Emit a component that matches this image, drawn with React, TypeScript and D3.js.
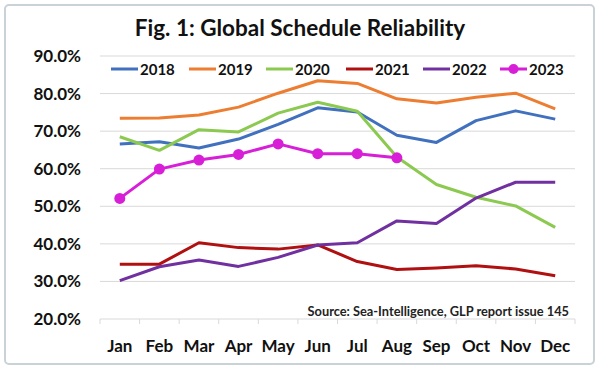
import React from "react";
import * as d3 from "d3";

const months = ["Jan", "Feb", "Mar", "Apr", "May", "Jun", "Jul", "Aug", "Sep", "Oct", "Nov", "Dec"];
const yTicks = [20, 30, 40, 50, 60, 70, 80, 90];

const s2018 = [66.6, 67.2, 65.5, 67.9, 71.8, 76.2, 75.1, 68.9, 67.0, 72.8, 75.4, 73.2];
const s2019 = [73.4, 73.5, 74.3, 76.4, 80.1, 83.4, 82.7, 78.6, 77.5, 79.0, 80.1, 75.9];
const s2020 = [68.5, 64.9, 70.4, 69.8, 74.8, 77.7, 75.3, 63.1, 55.8, 52.4, 50.1, 44.4];
const s2021 = [34.6, 34.6, 40.3, 39.0, 38.6, 39.7, 35.3, 33.2, 33.6, 34.2, 33.3, 31.5];
const s2022 = [30.2, 33.9, 35.7, 34.0, 36.4, 39.7, 40.3, 46.1, 45.4, 52.2, 56.4, 56.4];
const s2023 = [52.1, 59.9, 62.3, 63.8, 66.6, 64.0, 64.0, 62.9];

const seriesNames = ["2018", "2019", "2020", "2021", "2022", "2023"];
const seriesValues = [s2018, s2019, s2020, s2021, s2022, s2023];
const seriesColors = ["#4170bf", "#ed7d31", "#8cc950", "#b01010", "#7030a0", "#d81fd8"];

const FONT = "Lato, 'Open Sans', sans-serif";

export default function App() {
  const W = 600, H = 371;
  const x0 = 100, x1 = 575, yTop = 56, yBot = 319;
  const x = d3.scaleBand<string>().domain(months).range([x0, x1]);
  const y = d3.scaleLinear().domain([20, 90]).range([yBot, yTop]);
  const cx = (m: string) => (x(m) as number) + x.bandwidth() / 2;
  const line = d3
    .line<number>()
    .x((_, i) => cx(months[i]))
    .y((v) => y(v));

  const legendX = [111, 189, 266, 346, 423, 500];
  const legendY = 69;

  return (
    <svg width={W} height={H} style={{ position: "absolute", left: 0, top: 0, background: "#fff" }}>
      <rect x={5} y={5} width={589} height={359} rx={4} fill="#fff" stroke="#c9d2d6" strokeWidth={2} />
      <text x={300} y={36} textAnchor="middle" fontFamily={FONT} fontWeight={700} fontSize={22.5} fill="#111">
        Fig. 1: Global Schedule Reliability
      </text>
      {yTicks.map((t) => (
        <g key={t}>
          <line x1={x0} x2={x1} y1={y(t)} y2={y(t)} stroke="#d9d9d9" strokeWidth={1} />
          <text x={81} y={y(t) + 6} textAnchor="end" fontFamily={FONT} fontWeight={700} fontSize={17} fill="#111">
            {t.toFixed(1) + "%"}
          </text>
        </g>
      ))}
      {d3.range(months.length + 1).map((i) => {
        const xx = x0 + i * x.bandwidth();
        return <line key={i} x1={xx} x2={xx} y1={yBot} y2={yBot + 5} stroke="#d9d9d9" strokeWidth={1} />;
      })}
      {months.map((m) => (
        <text key={m} x={cx(m)} y={352} textAnchor="middle" fontFamily={FONT} fontWeight={700} fontSize={17} fill="#111">
          {m}
        </text>
      ))}
      {seriesValues.map((vals, si) => (
        <path
          key={seriesNames[si]}
          d={line(vals) || ""}
          fill="none"
          stroke={seriesColors[si]}
          strokeWidth={3}
          strokeLinejoin="round"
        />
      ))}
      {s2023.map((v, i) => (
        <circle key={i} cx={cx(months[i])} cy={y(v)} r={5.5} fill={seriesColors[5]} />
      ))}
      {seriesNames.map((n, i) => (
        <g key={n}>
          <line x1={legendX[i]} x2={legendX[i] + 27} y1={legendY} y2={legendY} stroke={seriesColors[i]} strokeWidth={3} />
          {i === 5 && <circle cx={legendX[i] + 13.5} cy={legendY} r={5} fill={seriesColors[i]} />}
          <text x={legendX[i] + 29} y={legendY + 5.5} fontFamily={FONT} fontWeight={700} fontSize={15} fill="#111">
            {n}
          </text>
        </g>
      ))}
      <text x={569} y={316} textAnchor="end" fontFamily={FONT} fontWeight={700} fontSize={12.8} fill="#222">
        Source: Sea-Intelligence, GLP report issue 145
      </text>
    </svg>
  );
}
